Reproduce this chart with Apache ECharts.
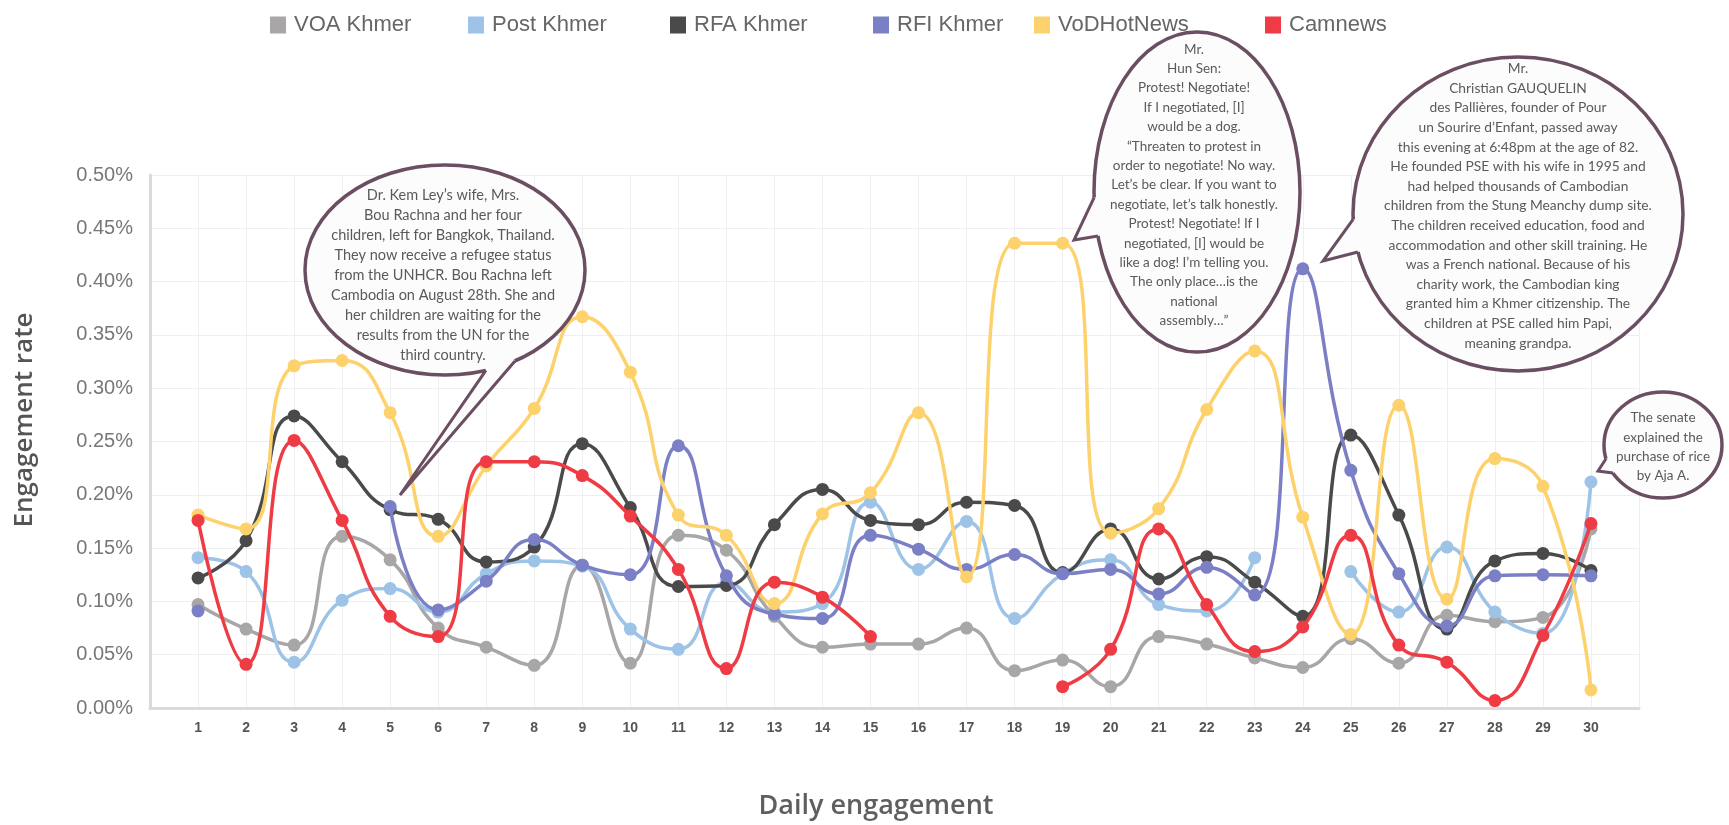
<!DOCTYPE html>
<html>
<head>
<meta charset="utf-8">
<title>Daily engagement</title>
<script src="https://cdn.jsdelivr.net/npm/echarts@6/dist/echarts.min.js"></script>
<style>
  html, body { margin: 0; padding: 0; background: #fff; }
  #chart { width: 1729px; height: 825px; }
</style>
</head>
<body>
<div id="chart"></div>
<script>
/* Daily engagement rate (%) of six Khmer news pages over 30 days. */
const days = [1, 2, 3, 4, 5, 6, 7, 8, 9, 10, 11, 12, 13, 14, 15,
              16, 17, 18, 19, 20, 21, 22, 23, 24, 25, 26, 27, 28, 29, 30];

const voaKhmer = [0.097, 0.074, 0.059, 0.161, 0.139, 0.075, 0.057, 0.040, 0.134, 0.042,
                  0.162, 0.148, 0.086, 0.057, 0.060, 0.060, 0.075, 0.035, 0.045, 0.020,
                  0.067, 0.060, 0.047, 0.038, 0.065, 0.042, 0.087, 0.081, 0.085, 0.168];
const postKhmer = [0.141, 0.128, 0.043, 0.101, 0.112, 0.090, 0.126, 0.138, 0.133, 0.074,
                   0.055, 0.118, 0.090, 0.098, 0.193, 0.130, 0.175, 0.084, 0.126, 0.139,
                   0.097, 0.091, 0.141, null, 0.128, 0.090, 0.151, 0.090, 0.070, 0.212];
const rfaKhmer = [0.122, 0.157, 0.274, 0.231, 0.186, 0.177, 0.137, 0.151, 0.248, 0.188,
                  0.114, 0.115, 0.172, 0.205, 0.176, 0.172, 0.193, 0.190, 0.127, 0.168,
                  0.121, 0.142, 0.118, 0.086, 0.256, 0.181, 0.074, 0.138, 0.145, 0.129];
const rfiKhmer = [0.091, null, null, null, 0.189, 0.092, 0.119, 0.158, 0.134, 0.125,
                  0.246, 0.124, 0.088, 0.084, 0.162, 0.149, 0.130, 0.144, 0.126, 0.130,
                  0.107, 0.132, 0.106, 0.412, 0.223, 0.126, 0.077, 0.124, 0.125, 0.124];
const vodHotNews = [0.181, 0.168, 0.321, 0.326, 0.277, 0.161, 0.227, 0.281, 0.367, 0.315,
                    0.181, 0.162, 0.098, 0.182, 0.202, 0.277, 0.123, 0.436, 0.436, 0.164,
                    0.187, 0.280, 0.335, 0.179, 0.069, 0.284, 0.102, 0.234, 0.208, 0.017];
const camnews = [0.176, 0.041, 0.251, 0.176, 0.086, 0.067, 0.231, 0.231, 0.218, 0.180,
                 0.130, 0.037, 0.118, 0.104, 0.067, null, null, null, 0.020, 0.055,
                 0.168, 0.097, 0.053, 0.076, 0.162, 0.059, 0.043, 0.007, 0.068, 0.173];

const seriesNames = ['VOA Khmer', 'Post Khmer', 'RFA Khmer', 'RFI Khmer', 'VoDHotNews', 'Camnews'];
const seriesValues = [voaKhmer, postKhmer, rfaKhmer, rfiKhmer, vodHotNews, camnews];

const yTicks = { min: 0, max: 0.5, step: 0.05 };

/* callouts (annotation text, not data) */
const notes = [
  "Dr. Kem Ley’s wife, Mrs.\nBou Rachna and her four\nchildren, left for Bangkok, Thailand.\nThey now receive a refugee status\nfrom the UNHCR. Bou Rachna left\nCambodia on August 28th. She and\nher children are waiting for the\nresults from the UN for the\nthird country.",
  "Mr.\nHun Sen:\nProtest! Negotiate!\nIf I negotiated, [I]\nwould be a dog.\n“Threaten to protest in\norder to negotiate! No way.\nLet’s be clear. If you want to\nnegotiate, let’s talk honestly.\nProtest! Negotiate! If I\nnegotiated, [I] would be\nlike a dog! I’m telling you.\nThe only place…is the\nnational\nassembly…”",
  "Mr.\nChristian GAUQUELIN\ndes Pallières, founder of Pour\nun Sourire d’Enfant, passed away\nthis evening at 6:48pm at the age of 82.\nHe founded PSE with his wife in 1995 and\nhad helped thousands of Cambodian\nchildren from the Stung Meanchy dump site.\nThe children received education, food and\naccommodation and other skill training. He\nwas a French national. Because of his\ncharity work, the Cambodian king\ngranted him a Khmer citizenship. The\nchildren at PSE called him Papi,\nmeaning grandpa.",
  "The senate\nexplained the\npurchase of rice\nby Aja A."
];

/* ---- styling / layout ---- */
const COLORS = ['#a8a6a7', '#9dc3e6', '#4a4a4a', '#7b7fc5', '#fdd16c', '#ee3b44'];
const legendLeft = [265, 463, 665, 868, 1029, 1260];
const FONT_AX = "'Liberation Sans', Arial, sans-serif";
const FONT_NOTE = "Lato, 'Open Sans', sans-serif";
const BUBBLE_STROKE = '#6b4e62';
const BUBBLE_FILL = '#fcfcfc';

// bubble geometry: ellipse, tail base angles (deg) and tail tip, text block
const bubbleLayout = [
  { cx: 445, cy: 270, rx: 140, ry: 105, a1: 73, a2: 60, tip: [400, 495], tx: 443, ty: 275, lh: 20, fs: 14.5 },
  { cx: 1197, cy: 192, rx: 103, ry: 160, a1: 178, a2: 164, tip: [1074, 240], tx: 1194, ty: 185, lh: 19.4, fs: 13.5 },
  { cx: 1518, cy: 214, rx: 165, ry: 157, a1: 178, a2: 166, tip: [1323, 261], tx: 1518, ty: 206, lh: 19.6, fs: 13.8 },
  { cx: 1663, cy: 445, rx: 59, ry: 53, a1: 165, a2: 148, tip: [1598, 471], tx: 1663, ty: 447, lh: 19.3, fs: 13.5 }
];

function bubbleElements(b, text) {
  const rad = (d) => d * Math.PI / 180;
  const onEdge = (a, inset) => [b.cx + (b.rx - inset) * Math.cos(rad(a)), b.cy + (b.ry - inset) * Math.sin(rad(a))];
  const p1 = onEdge(b.a1, 0), p2 = onEdge(b.a2, 0);
  const i1 = onEdge(b.a1, 7), i2 = onEdge(b.a2, 7);
  return [
    { type: 'ellipse', z: 100, shape: { cx: b.cx, cy: b.cy, rx: b.rx, ry: b.ry },
      style: { fill: BUBBLE_FILL, stroke: BUBBLE_STROKE, lineWidth: 3.5 } },
    { type: 'polygon', z: 101, shape: { points: [i1, p1, b.tip, p2, i2] },
      style: { fill: BUBBLE_FILL } },
    { type: 'polyline', z: 102, shape: { points: [p1, b.tip, p2] },
      style: { fill: null, stroke: BUBBLE_STROKE, lineWidth: 3, lineJoin: 'miter' } },
    { type: 'text', z: 103, x: b.tx, y: b.ty,
      style: { text: text, fill: '#5a5a5a', font: b.fs + 'px ' + FONT_NOTE,
               align: 'center', verticalAlign: 'middle', lineHeight: b.lh } }
  ];
}

const chart = echarts.init(document.getElementById('chart'), null, { renderer: 'canvas' });

const graphics = [];
bubbleLayout.forEach((b, i) => graphics.push(...bubbleElements(b, notes[i])));
graphics.push(
  { type: 'text', x: 25, y: 420, rotation: Math.PI / 2,
    style: { text: 'Engagement rate', fill: '#555', font: "600 26px 'Open Sans', sans-serif",
             align: 'center', verticalAlign: 'middle' } },
  { type: 'text', x: 876, y: 806,
    style: { text: 'Daily engagement', fill: '#5f5f5f', font: "600 27px 'Open Sans', sans-serif",
             align: 'center', verticalAlign: 'middle' } }
);

chart.setOption({
  animation: false,
  backgroundColor: '#ffffff',
  grid: { left: 150, right: 90, top: 175, bottom: 117 },
  legend: seriesNames.map((name, i) => ({
    data: [name], left: legendLeft[i], top: 9,
    icon: 'rect', itemWidth: 16, itemHeight: 17,
    selectedMode: false,
    textStyle: { color: '#666', fontSize: 22, fontFamily: FONT_AX, padding: [0, 0, 0, 3] }
  })),
  xAxis: {
    type: 'value', min: 0, max: 31, interval: 1,
    axisLine: { show: true, lineStyle: { color: '#dadada', width: 3 } },
    axisTick: { show: false },
    splitLine: { show: true, lineStyle: { color: '#efefef', width: 1 } },
    axisLabel: {
      color: '#555', fontSize: 14, fontWeight: 'bold', margin: 13,
      fontFamily: "'Liberation Sans Narrow', 'Liberation Sans', Arial, sans-serif",
      formatter: (v) => (days.indexOf(v) >= 0 ? String(v) : '')
    }
  },
  yAxis: {
    type: 'value', min: yTicks.min, max: yTicks.max, interval: yTicks.step,
    axisLine: { show: true, lineStyle: { color: '#dadada', width: 3 } },
    axisTick: { show: false },
    splitLine: { show: true, lineStyle: { color: '#efefef', width: 1 } },
    axisLabel: {
      color: '#777', fontSize: 20, fontFamily: FONT_AX, margin: 17,
      formatter: (v) => v.toFixed(2) + '%'
    }
  },
  series: seriesNames.map((name, i) => ({
    name: name, type: 'line', smooth: 0.5,
    data: days.map((d, k) => [d, seriesValues[i][k]]),
    symbol: 'circle', symbolSize: 13, showSymbol: true,
    lineStyle: { color: COLORS[i], width: 3.5 },
    itemStyle: { color: COLORS[i] },
    emphasis: { disabled: true },
    z: 2 + i
  })),
  graphic: graphics
});
</script>
</body>
</html>
